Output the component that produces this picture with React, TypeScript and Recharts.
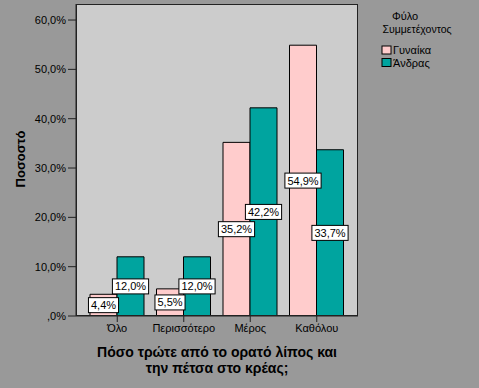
import { BarChart, Bar, XAxis, YAxis, CartesianGrid, LabelList } from "recharts";

const categories = ["Όλο", "Περισσότερο", "Μέρος", "Καθόλου"];
const women = [4.4, 5.5, 35.2, 54.9];
const men = [12.0, 12.0, 42.2, 33.7];
const yTicks = [0, 10, 20, 30, 40, 50, 60];

const data = categories.map((c, i) => ({ name: c, women: women[i], men: men[i] }));

const PINK = "#ffcccc";
const TEAL = "#00a49f";
const FONT = "'Liberation Sans', Arial, sans-serif";

const fmt = (v: number) => (v === 0 ? ",0%" : `${v.toFixed(1).replace(".", ",")}%`);

function textWidth(s: string) {
  let w = 0;
  for (const ch of s) {
    if (ch === ",") w += 3.06;
    else if (ch === "%") w += 9.78;
    else w += 6.12;
  }
  return w;
}

function BoxLabel(props: any) {
  const { x, y, width, height, value } = props;
  const s = fmt(Number(value));
  const cx = Number(x) + Number(width) / 2;
  const cy = Number(y) + Number(height) / 2;
  const w = textWidth(s) + 5;
  const h = 15;
  return (
    <g>
      <rect x={cx - w / 2} y={cy - h / 2} width={w} height={h} fill="#fff" stroke="#000" strokeWidth={1} />
      <text x={cx} y={cy + 4} textAnchor="middle" fontSize={11} fontFamily={FONT} fill="#000">
        {s}
      </text>
    </g>
  );
}

export default function App() {
  return (
    <div style={{ position: "absolute", left: 0, top: 0, width: 479, height: 388, background: "#999999" }}>
      <BarChart
        width={479}
        height={388}
        data={data}
        margin={{ top: 4, right: 121, left: 0, bottom: 0 }}
        barGap={0}
        barSize={27}
      >
        <CartesianGrid fill="#cccccc" horizontal={false} vertical={false} />
        <XAxis
          dataKey="name"
          height={72}
          padding={{ left: 8, right: 8 }}
          tickSize={6}
          axisLine={{ stroke: "#222" }}
          tickLine={{ stroke: "#222" }}
          tick={{ fontSize: 11, fontFamily: FONT, fill: "#000" }}
          interval={0}
        />
        <YAxis
          width={76}
          domain={[0, 63.25]}
          ticks={yTicks}
          tickFormatter={fmt}
          tickSize={8}
          axisLine={{ stroke: "#222" }}
          tickLine={{ stroke: "#222" }}
          tick={{ fontSize: 11, fontFamily: FONT, fill: "#000" }}
          allowDataOverflow
        />
        <Bar dataKey="women" fill={PINK} stroke="#000" strokeWidth={1} isAnimationActive={false}>
          <LabelList dataKey="women" content={BoxLabel} />
        </Bar>
        <Bar dataKey="men" fill={TEAL} stroke="#000" strokeWidth={1} isAnimationActive={false}>
          <LabelList dataKey="men" content={BoxLabel} />
        </Bar>
      </BarChart>
      <div
        style={{
          position: "absolute",
          left: 76,
          top: 4,
          width: 282,
          height: 312,
          boxSizing: "border-box",
          border: "1px solid #222",
          pointerEvents: "none",
        }}
      />
      <svg width={479} height={388} style={{ position: "absolute", left: 0, top: 0, pointerEvents: "none" }}>
        <text x={405} y={20} textAnchor="middle" fontSize={11} fontFamily={FONT} fill="#000">
          Φύλο
        </text>
        <text x={417} y={33} textAnchor="middle" fontSize={10.5} fontFamily={FONT} fill="#000">
          Συμμετέχοντος
        </text>
        <rect x={382} y={46} width={9} height={8} fill={PINK} stroke="#000" strokeWidth={1} />
        <text x={393} y={54} fontSize={11} fontFamily={FONT} fill="#000">
          Γυναίκα
        </text>
        <rect x={382} y={58.5} width={9} height={8} fill={TEAL} stroke="#000" strokeWidth={1} />
        <text x={393} y={67} fontSize={11} fontFamily={FONT} fill="#000">
          Άνδρας
        </text>
        <text
          x={20}
          y={159}
          transform="rotate(-90 20 159)"
          textAnchor="middle"
          dominantBaseline="central"
          fontSize={13}
          fontWeight="bold"
          fontFamily={FONT}
          fill="#000"
        >
          Ποσοστό
        </text>
        <text x={217} y={357} textAnchor="middle" fontSize={14} fontWeight="bold" fontFamily={FONT} fill="#000">
          Πόσο τρώτε από το ορατό λίπος και
        </text>
        <text x={217} y={373} textAnchor="middle" fontSize={14} fontWeight="bold" fontFamily={FONT} fill="#000">
          την πέτσα στο κρέας;
        </text>
      </svg>
    </div>
  );
}
